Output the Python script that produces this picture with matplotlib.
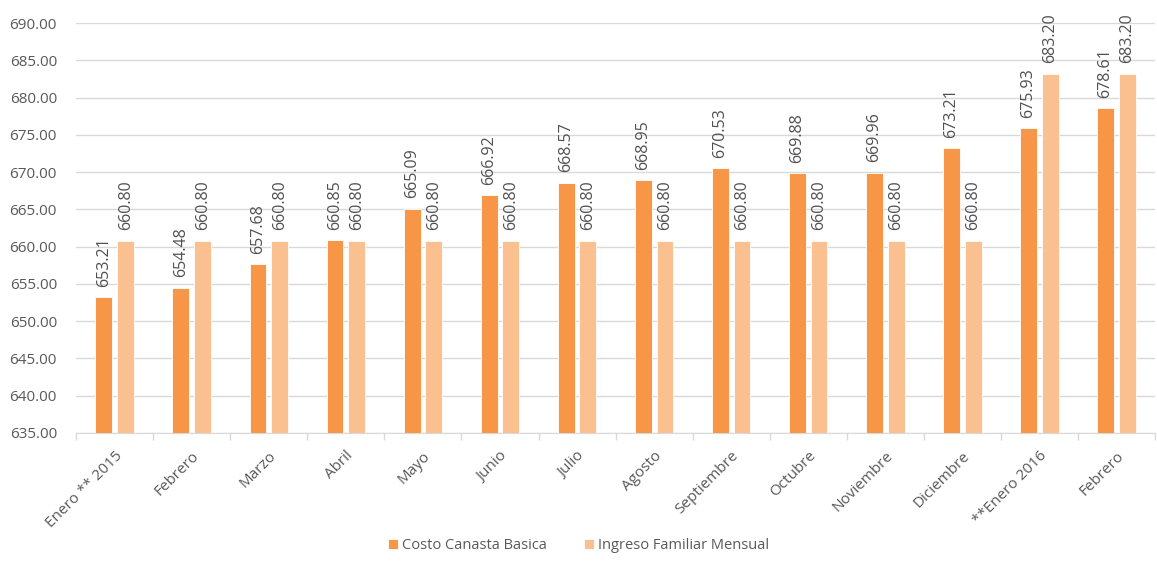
import numpy as np
import matplotlib.pyplot as plt
from matplotlib.ticker import FixedLocator, NullFormatter

plt.rcParams['font.family'] = ['Open Sans', 'DejaVu Sans']

meses = ['Enero ** 2015', 'Febrero', 'Marzo', 'Abril', 'Mayo', 'Junio', 'Julio',
         'Agosto', 'Septiembre', 'Octubre', 'Noviembre', 'Diciembre',
         '**Enero 2016', 'Febrero']
costo_canasta = [653.21, 654.48, 657.68, 660.85, 665.09, 666.92, 668.57,
                 668.95, 670.53, 669.88, 669.96, 673.21, 675.93, 678.61]
ingreso_familiar = [660.80, 660.80, 660.80, 660.80, 660.80, 660.80, 660.80,
                    660.80, 660.80, 660.80, 660.80, 660.80, 683.20, 683.20]

gris = '#595959'
x = np.arange(len(meses))
ancho = 0.22
sep = 0.142

fig = plt.figure(figsize=(11.57, 5.66), dpi=100)
ax = fig.add_axes([0.066, 0.235, 0.932, 0.724])

b1 = ax.bar(x - sep, costo_canasta, ancho, color='#F79646', edgecolor='white', linewidth=0.6,
            label='Costo Canasta Basica', zorder=3)
b2 = ax.bar(x + sep, ingreso_familiar, ancho, color='#FAC090', edgecolor='white', linewidth=0.6,
            label='Ingreso Familiar Mensual', zorder=3)

# etiquetas de valor verticales sobre cada barra
for barras in (b1, b2):
    for r in barras:
        v = r.get_height()
        ax.text(r.get_x() + r.get_width() / 2, v + 1.4, f'{v:.2f}', rotation=90,
                ha='center', va='bottom', fontsize=11.5, color='#505050', zorder=4)

ax.set_ylim(635, 690)
ax.set_yticks(np.arange(635, 691, 5))
ax.set_yticklabels([f'{v:.2f}' for v in np.arange(635, 691, 5)], fontsize=11, color=gris)
ax.set_xlim(-0.5, len(meses) - 0.5)
ax.grid(axis='y', color='#D9D9D9', linewidth=1, zorder=0)

ax.set_xticks(x)
ax.set_xticklabels(meses, rotation=45, ha='right', rotation_mode='anchor',
                   fontsize=11, color=gris)
ax.tick_params(axis='x', which='major', length=0, pad=11)
ax.xaxis.set_minor_locator(FixedLocator(np.arange(-0.5, len(meses), 1)))
ax.xaxis.set_minor_formatter(NullFormatter())
ax.tick_params(axis='x', which='minor', length=5, color='#D9D9D9', width=1)
ax.tick_params(axis='y', length=0, pad=14)

for s in ['top', 'right', 'left']:
    ax.spines[s].set_visible(False)
ax.spines['bottom'].set_color('#D9D9D9')

fig.legend(loc='lower center', bbox_to_anchor=(0.5, 0.0), ncol=2, frameon=False,
           fontsize=10.5, handlelength=0.7, handleheight=0.7, handletextpad=0.3,
           columnspacing=2.5, labelcolor=gris)

plt.savefig('out.png')
